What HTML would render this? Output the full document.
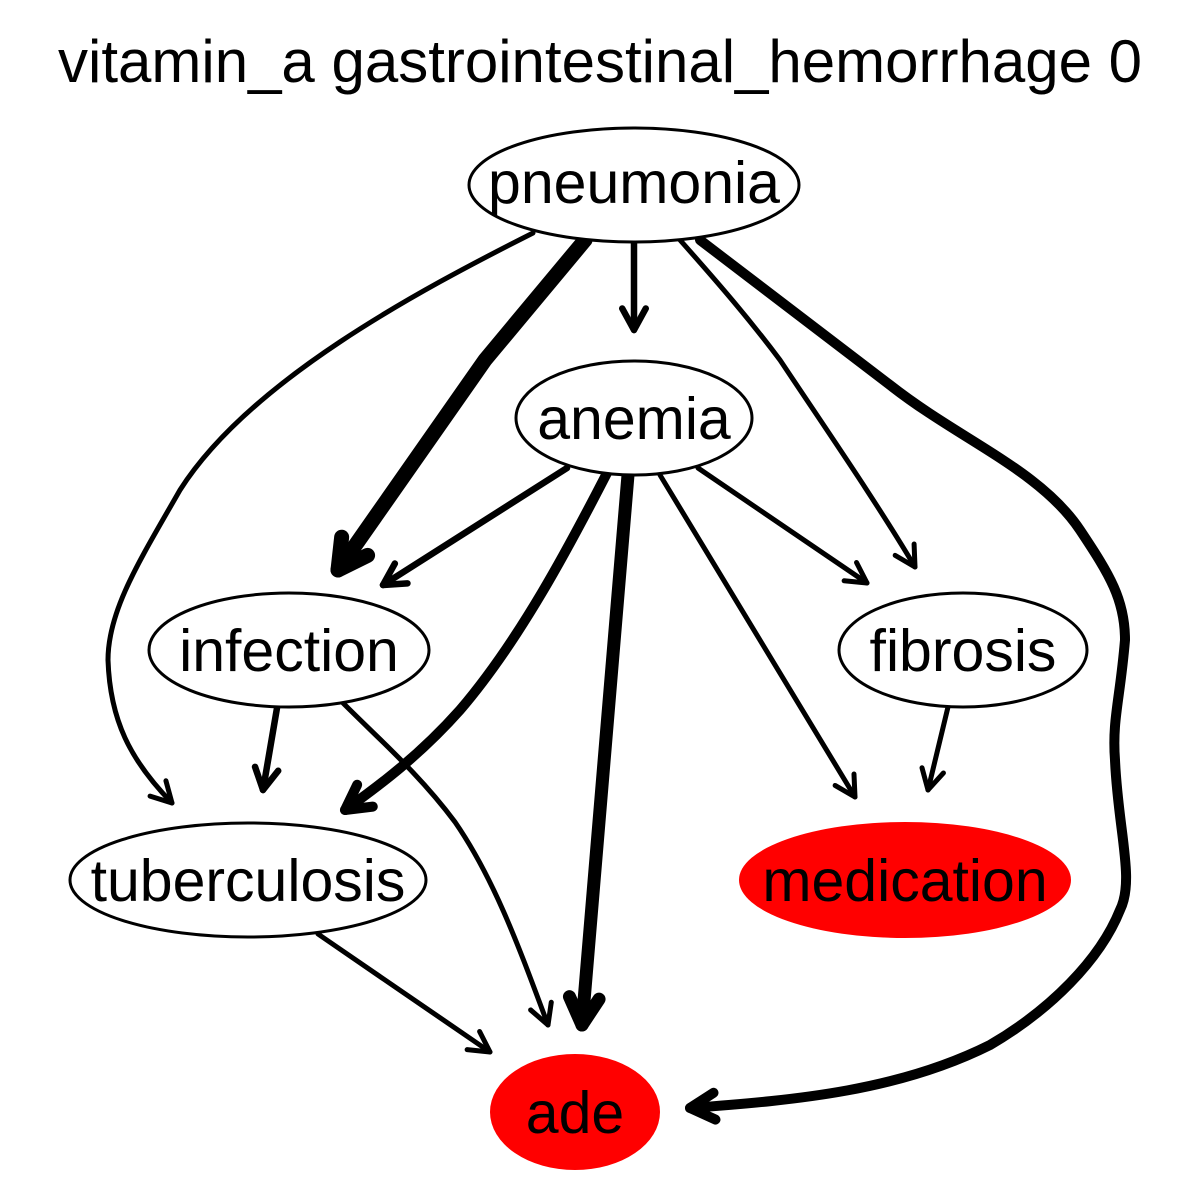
<!DOCTYPE html>
<html><head><meta charset="utf-8"><style>
html,body{margin:0;padding:0;background:#fff;}
svg{display:block;}
text{font-family:"Liberation Sans",sans-serif;}
</style></head><body>
<svg id="g" width="1200" height="1200" viewBox="0 0 1200 1200">
<rect width="1200" height="1200" fill="#fff"/>
<text x="600" y="82" font-size="60" text-anchor="middle">vitamin_a gastrointestinal_hemorrhage 0</text>
<g id="edges" fill="none" stroke="#000" stroke-linecap="round" stroke-linejoin="round"></g>
<g id="nodes" stroke="#000" stroke-width="3">
<g><ellipse cx="634" cy="185" rx="165" ry="57" fill="#fff"/><text x="634" y="203" font-size="59" text-anchor="middle" stroke="none">pneumonia</text></g>
<g><ellipse cx="634" cy="418" rx="118" ry="57" fill="#fff"/><text x="634" y="439" font-size="59" text-anchor="middle" stroke="none">anemia</text></g>
<g><ellipse cx="289" cy="650" rx="140" ry="57" fill="#fff"/><text x="289" y="671" font-size="59" text-anchor="middle" stroke="none">infection</text></g>
<g><ellipse cx="963" cy="650" rx="124" ry="57" fill="#fff"/><text x="963" y="671" font-size="59" text-anchor="middle" stroke="none">fibrosis</text></g>
<g><ellipse cx="248" cy="880" rx="178" ry="57" fill="#fff"/><text x="248" y="901" font-size="59" text-anchor="middle" stroke="none">tuberculosis</text></g>
<g><ellipse cx="905" cy="880" rx="166" ry="58" fill="#f00" stroke="none"/><text x="905" y="901" font-size="59" text-anchor="middle" stroke="none">medication</text></g>
<g><ellipse cx="575" cy="1112" rx="85" ry="58" fill="#f00" stroke="none"/><text x="575" y="1133" font-size="59" text-anchor="middle" stroke="none">ade</text></g>
</g>
</svg>
<script>
const edgeNames=["pneumonia-infection","pneumonia-tuberculosis","pneumonia-anemia","pneumonia-fibrosis","pneumonia-ade","anemia-infection","anemia-tuberculosis","anemia-ade","anemia-medication","anemia-fibrosis","infection-tuberculosis","infection-ade","fibrosis-medication","tuberculosis-ade"];
const edgeWidths=[15,5,6.5,5,10,6.5,10,13,5,5,6.5,5,5,5];
const edgePaths=[
"M585,240 L485,360 L338,570",
"M533,233 C420,290 250,380 180,490 C140,560 108,610 108,660 C110,720 130,760 172,803",
"M634,243 L634,330",
"M680,240 C720,285 750,320 780,360 C830,435 875,500 915,567",
"M700,240 L890,385 C960,440 1040,470 1080,530 C1110,575 1125,600 1125,640 C1120,700 1112,720 1115,760 C1118,830 1135,880 1120,910 C1100,960 1050,1010 990,1045 C900,1090 800,1100 690,1108",
"M567,468 L383,585",
"M607,473 C570,545 520,640 460,710 C420,755 380,785 345,810",
"M628,475 L582,1025",
"M660,475 L855,797",
"M698,468 L867,583",
"M277,708 L263,790",
"M343,703 C380,740 420,775 455,822 C495,880 520,950 548,1025",
"M948,707 L928,790",
"M318,934 L490,1052"];
const ns="http://www.w3.org/2000/svg";
const eg=document.getElementById("edges");
edgeNames.forEach((n,i)=>{
  const p=document.createElementNS(ns,"path");
  p.setAttribute("d",edgePaths[i]);
  p.setAttribute("stroke-width",edgeWidths[i]);
  
  
  eg.appendChild(p);
  const L=p.getTotalLength();
  const e=p.getPointAtLength(L), b=p.getPointAtLength(L-5);
  const a=Math.atan2(e.y-b.y,e.x-b.x), len=18+edgeWidths[i], sp=0.5;
  const h=document.createElementNS(ns,"path");
  const x1=e.x-len*Math.cos(a-sp), y1=e.y-len*Math.sin(a-sp);
  const x2=e.x-len*Math.cos(a+sp), y2=e.y-len*Math.sin(a+sp);
  h.setAttribute("d",`M${x1},${y1} L${e.x},${e.y} L${x2},${y2}`);
  h.setAttribute("stroke-width",edgeWidths[i]);
  
  
  eg.appendChild(h);
});
</script>
</body></html>
